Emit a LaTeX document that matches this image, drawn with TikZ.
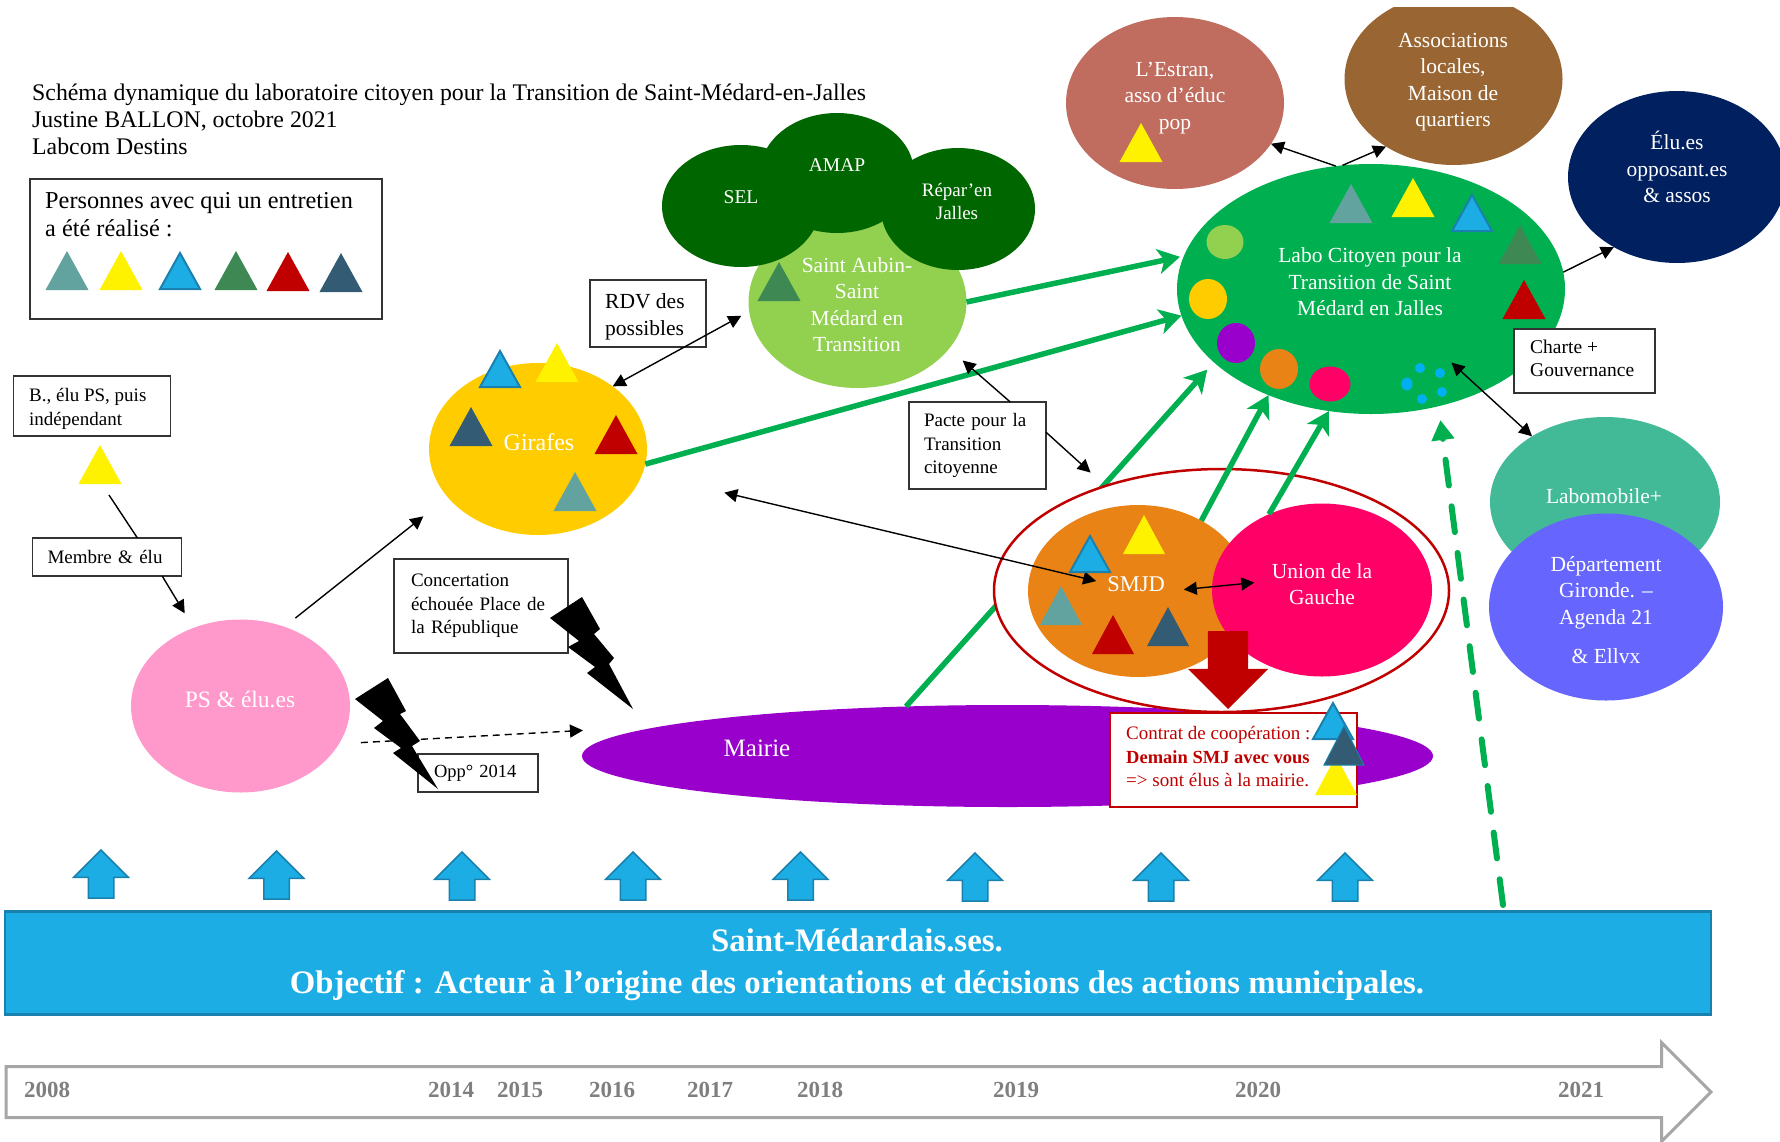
\documentclass[tikz,border=0pt]{standalone}
\usepackage{fontspec}
\setmainfont{Liberation Serif}
\usepackage{xcolor}
\usetikzlibrary{arrows.meta,shapes.geometric,shapes.arrows}
\definecolor{bleuclair}{HTML}{1CADE4}
\definecolor{bleubord}{HTML}{1A80AD}
\definecolor{sarcelle}{HTML}{62A39F}
\definecolor{vertfonce}{HTML}{3E8853}
\definecolor{rouge}{HTML}{C00000}
\definecolor{ardoise}{HTML}{335B74}
\definecolor{vertlabo}{HTML}{00B050}
\definecolor{vertaubin}{HTML}{92D050}
\definecolor{vertsapin}{HTML}{006600}
\definecolor{orsoleil}{HTML}{FFCC00}
\definecolor{violet}{HTML}{9900CC}
\definecolor{orange}{HTML}{E98316}
\definecolor{framboise}{HTML}{FF0066}
\definecolor{rosepale}{HTML}{FF99CC}
\definecolor{brique}{HTML}{C06C5F}
\definecolor{brun}{HTML}{996633}
\definecolor{marine}{HTML}{002060}
\definecolor{menthe}{HTML}{42BA97}
\definecolor{indigo}{HTML}{6666FF}
\definecolor{ciel}{HTML}{00B0F0}
\definecolor{grisfrise}{HTML}{A6A6A6}
\definecolor{grisannee}{HTML}{7F7F7F}
\tikzset{
  bulle/.style={shape=ellipse, inner sep=0pt, outer sep=0pt, minimum width=218pt, minimum height=172pt, text=white, align=center, font=\fontsize{21.5}{26.5}\selectfont},
  legende/.style={inner sep=0pt, outer sep=0pt, text=white, align=center, font=\fontsize{21.5}{26.5}\selectfont},
  rond/.style={shape=ellipse, inner sep=0pt, outer sep=0pt},
  tri/.style={shape=isosceles triangle, shape border rotate=90, isosceles triangle stretches, minimum width=43pt, minimum height=39pt, inner sep=0pt, outer sep=0pt, anchor=south},
  tribleu/.style={tri, fill=bleuclair, draw=bleubord, line width=2pt, minimum width=40pt, minimum height=36pt},
  boite/.style={draw=black!80, fill=white, line width=1.5pt, inner xsep=15pt, inner ysep=0pt, outer sep=0pt, align=left, font=\fontsize{19}{23.5}\selectfont},
  texteboite/.style={anchor=west, inner sep=0pt, align=left, font=\fontsize{19}{23.5}\selectfont},
  fleche/.style={line width=1.4pt, -{Triangle[length=13pt,width=13pt]}},
  flechedouble/.style={line width=1.4pt, {Triangle[length=13pt,width=13pt]}-{Triangle[length=13pt,width=13pt]}},
  verte/.style={draw=vertlabo, line width=5.5pt, -{Stealth[length=22pt,width=25pt,inset=6pt]}},
  flechebleue/.style={shape=single arrow, shape border rotate=90, single arrow head extend=14.5pt, minimum width=53pt, minimum height=48pt, inner xsep=12pt, inner ysep=0pt, outer sep=0pt, anchor=tail, fill=bleuclair, draw=bleubord, line width=1.5pt},
  annee/.style={inner sep=0pt, text=grisannee, font=\fontsize{23}{26}\selectfont\bfseries},
  eclair/.style={fill=black}
}
\begin{document}
\begin{tikzpicture}[x=1pt,y=-1pt]
\useasboundingbox (0,0) rectangle (1780,1141);
\clip (0,0) rectangle (1780,1141);

\node (titre) at (32,119) [anchor=west, inner sep=0pt, align=left, font=\fontsize{23.8}{27}\selectfont]{Schéma dynamique du laboratoire citoyen pour la Transition de Saint-Médard-en-Jalles\\Justine BALLON, octobre 2021\\Labcom Destins};

\node (cadre) at (206,249) [boite, minimum width=352pt, minimum height=140pt]{};
\node (cadretxt) at (45,215) [anchor=west, inner sep=0pt, align=left, font=\fontsize{24.3}{28}\selectfont]{Personnes avec qui un entretien\\a été réalisé :};
\node (l1) at (67,290) [tri, fill=sarcelle]{};
\node (l2) at (121,290) [tri, fill=yellow]{};
\node (l3) at (180,289) [tribleu]{};
\node (l4) at (236,290) [tri, fill=vertfonce]{};
\node (l5) at (288,291) [tri, fill=rouge]{};
\node (l6) at (341,292) [tri, fill=ardoise]{};

\node (elu) at (92,406) [boite, minimum width=157pt, minimum height=60pt]{};
\node (elutxt) at (29,409) [texteboite]{B., élu PS, puis\\indépendant};
\node (elutri) at (100,484) [tri, fill=yellow]{};
\node (membre) at (107,557) [boite, text width=119pt, minimum height=38pt]{Membre \& élu};
\node (ps) at (240.5,706) [bulle, fill=rosepale, minimum width=219pt, minimum height=173pt]{};
\node (pstxt) at (240,699) [legende, font=\fontsize{23.5}{26.5}\selectfont]{PS \& élu.es};
\coordinate (elufin) at (109,495);
\draw [line width=1.4pt] (elufin) -- (membre.32);
\draw [fleche, shorten >=17pt] (membre.-19.4) -- (ps.121);

\node (girafes) at (538,449) [bulle, fill=orsoleil]{};
\node (girafestxt) at (539,442) [legende, font=\fontsize{24}{26.5}\selectfont]{Girafes};
\draw [fleche, shorten <=14pt, shorten >=31pt] (ps.61) -- (girafes.208.5);

\node (aubin) at (857.5,302) [bulle, fill=vertaubin]{};
\node (sel) at (741,206) [bulle, fill=vertsapin, minimum width=158pt, minimum height=122pt]{};
\node (amap) at (837,173) [bulle, fill=vertsapin, minimum width=154pt, minimum height=120pt]{};
\node (repar) at (958,209) [bulle, fill=vertsapin, minimum width=154pt, minimum height=122pt]{};
\node (aubintxt) at (857,304.5) [legende]{Saint Aubin-\\Saint\\Médard en\\Transition};
\node (seltxt) at (741,197) [legende, font=\fontsize{19.5}{23}\selectfont]{SEL};
\node (amaptxt) at (837,165) [legende, font=\fontsize{19.5}{23}\selectfont]{AMAP};
\node (repartxt) at (957,201) [legende, font=\fontsize{19}{23}\selectfont]{Répar’en\\Jalles};
\node (a1) at (779,301) [tri, fill=vertfonce]{};

\node (estran) at (1175,103) [bulle, fill=brique]{};
\node (estrantxt) at (1175,98) [legende]{L’Estran,\\asso d’éduc\\pop};
\node (e1) at (1141,162) [tri, fill=yellow]{};
\begin{scope}
\clip (1300,7) rectangle (1600,200);
\node (assoc) at (1453.5,79) [bulle, fill=brun]{};
\end{scope}
\node (assoctxt) at (1453,82) [legende]{Associations\\locales,\\Maison de\\quartiers};
\node (opposant) at (1677,177) [bulle, fill=marine]{};
\node (opposanttxt) at (1677,167) [legende]{Élu.es\\opposant.es\\\& assos};

\node (labomobile) at (1605,502) [bulle, fill=menthe, minimum width=230pt, minimum height=170pt]{};
\node (labomobiletxt) at (1604,496) [legende]{Labomobile+};
\node (departement) at (1606,607) [bulle, fill=indigo, minimum width=234pt, minimum height=187pt]{};
\node (departementtxt) at (1606,610) [legende]{Département\\Gironde. --\\Agenda 21\\[13pt]\& Ellvx};

\node (mairie) at (1007.5,756) [bulle, fill=violet, minimum width=851pt, minimum height=102pt]{};
\node (mairietxt) at (757,748) [legende, font=\fontsize{25}{26.5}\selectfont]{Mairie};

\node (labo) at (1371,289) [bulle, fill=vertlabo, minimum width=388pt, minimum height=250pt]{};
\node (labotxt) at (1370,282) [legende]{Labo Citoyen pour la\\Transition de Saint\\Médard en Jalles};
\node (b1) at (1351,223) [tri, fill=sarcelle]{};
\node (b2) at (1413,217) [tri, fill=yellow]{};
\node (b3) at (1472,231) [tribleu]{};
\node (b4) at (1520,264) [tri, fill=vertfonce]{};
\node (b5) at (1524,319) [tri, fill=rouge]{};
\node (c1) at (1225,242) [rond, fill=vertaubin, minimum width=37pt, minimum height=34pt]{};
\node (c2) at (1208,299) [rond, fill=orsoleil, minimum width=38pt, minimum height=40pt]{};
\node (c3) at (1236,343) [rond, fill=violet, minimum width=38pt, minimum height=40pt]{};
\node (c4) at (1279,369) [rond, fill=orange, minimum width=38pt, minimum height=40pt]{};
\node (c5) at (1330,384) [rond, fill=framboise, minimum width=41pt, minimum height=35pt]{};
\node (d1) at (1420,368) [rond, fill=ciel, minimum width=10pt, minimum height=10pt]{};
\node (d2) at (1440,373) [rond, fill=ciel, minimum width=10pt, minimum height=10pt]{};
\node (d3) at (1407,384) [rond, fill=ciel, minimum width=11pt, minimum height=13pt]{};
\node (d4) at (1442,392) [rond, fill=ciel, minimum width=10pt, minimum height=10pt]{};
\node (d5) at (1422,399) [rond, fill=ciel, minimum width=10pt, minimum height=10pt]{};

\draw [verte, shorten >=10pt] (mairie.154.6) -- (labo.205.9);
\node (cercle) at (1221.5,590.5) [shape=ellipse, inner sep=0pt, outer sep=0pt, draw=rouge, fill=white, line width=2.5pt, minimum width=455pt, minimum height=243pt]{};
\node (smjd) at (1138,591) [bulle, fill=orange, minimum width=220pt, minimum height=172pt]{};
\node (smjdtxt) at (1136,584) [legende, font=\fontsize{22.5}{26.5}\selectfont]{SMJD};
\node (union) at (1322,590) [bulle, fill=framboise, minimum width=220pt, minimum height=173pt]{};
\node (uniontxt) at (1322,584) [legende]{Union de la\\Gauche};

\draw [verte, shorten >=4pt] (aubin.east) -- (labo.170.8);
\draw [verte] (girafes.-8.4) -- (labo.188.5);
\draw [verte] (smjd.48.5) -- (labo.226);
\draw [verte] (union.125.6) -- (labo.251.4);

\draw [flechedouble, shorten <=84pt, shorten >=43pt] (girafes.-13.8) -- (smjd.center);
\draw [flechedouble, shorten <=46pt, shorten >=68pt] ([yshift=-3pt]smjd.center) -- ([yshift=14pt]union.center);
\node (s1) at (1090,572) [tribleu]{};
\node (s2) at (1144,554) [tri, fill=yellow, minimum width=42pt]{};
\node (s3) at (1061,625) [tri, fill=sarcelle, minimum width=42pt]{};
\node (s4) at (1113,654) [tri, fill=rouge, minimum width=42pt]{};
\node (s5) at (1168,646) [tri, fill=ardoise, minimum width=42pt]{};
\node (g1) at (500,387) [tribleu]{};
\node (g2) at (557,382) [tri, fill=yellow]{};
\node (g3) at (471,446) [tri, fill=ardoise]{};
\node (g4) at (616,454) [tri, fill=rouge]{};
\node (g5) at (575,511) [tri, fill=sarcelle]{};

\node (rdv) at (648,313.5) [boite, minimum width=116pt, minimum height=67pt]{};
\node (rdvtxt) at (605,317) [texteboite, font=\fontsize{21.5}{26.5}\selectfont]{RDV des\\possibles};
\draw [flechedouble, shorten >=9pt] (girafes.40) -- (aubin.185);
\node (pacte) at (977.5,445.5) [boite, text width=107pt, minimum height=87pt]{Pacte pour la\\Transition\\citoyenne};
\draw [fleche, shorten >=18pt] (pacte.53.2) -- (aubin.-27.6);
\draw [fleche, shorten >=20pt] (pacte.11.1) -- (cercle.138);
\node (charte) at (1584.5,361) [boite, minimum width=141pt, minimum height=64pt]{};
\node (chartetxt) at (1530,358.5) [texteboite, font=\fontsize{19.5}{23.5}\selectfont]{Charte +\\Gouvernance};
\draw [flechedouble, shorten <=109pt] (labo.center) -- (labomobile.138.5);

\draw [fleche] (labo.106.7) -- (estran.-23.5);
\draw [fleche] (labo.103) -- (assoc.225.4);
\draw [fleche] (labo.5.2) -- (opposant.228.7);

\node (concertation) at (481,606) [boite, text width=140pt, inner xsep=17pt, minimum height=94pt]{Concertation\\échouée Place de\\la République};
\node (opp) at (478,773) [boite, text width=88pt, inner xsep=16pt, minimum height=38pt, font=\fontsize{18.5}{23}\selectfont]{Opp° 2014};
\draw [fleche, dash pattern=on 7pt off 5pt, shorten <=22pt, shorten >=81pt] (ps.-21) -- (mairie.175);
\fill [eclair] (355,699) -- (388,678) -- (406,711) -- (400,714) -- (420,741) -- (412,746) -- (438,789) -- (393,753) -- (401,748) -- (374,728) -- (383,721) -- cycle;
\fill [eclair] (550,618) -- (582,597) -- (600,629) -- (594,634) -- (614,658) -- (609,664) -- (633,709) -- (587,673) -- (595,667) -- (568,647) -- (579,641) -- cycle;

\node (contrat) at (1233.5,760) [boite, draw=rouge, minimum width=247pt, minimum height=94pt]{};
\node (contrattxt) at (1126,757) [texteboite, text=rouge]{Contrat de coopération :\\\textbf{\fontsize{18.5}{23.5}\selectfont Demain SMJ avec vous}\\=> sont élus à la mairie.};
\node (m1) at (1336,795) [tri, fill=yellow, minimum width=42pt]{};
\node (m2) at (1333,739) [tribleu]{};
\node (m3) at (1344,765) [tri, fill=ardoise, draw=bleubord, line width=1pt, minimum width=40pt]{};
\node (contratfleche) at (1228,631) [shape=single arrow, shape border rotate=270, single arrow head extend=20pt, minimum width=80pt, minimum height=78pt, inner xsep=20pt, inner ysep=0pt, outer sep=0pt, anchor=tail, fill=rouge]{};

\node (p1) at (101,898) [flechebleue]{};
\node (p2) at (276.5,899) [flechebleue]{};
\node (p3) at (462,900) [flechebleue]{};
\node (p4) at (633,900) [flechebleue]{};
\node (p5) at (800.5,900) [flechebleue]{};
\node (p6) at (975,901) [flechebleue]{};
\node (p7) at (1161,901) [flechebleue]{};
\node (p8) at (1345,901) [flechebleue]{};

\node (objectif) at (858,963) [draw=bleubord, fill=bleuclair, line width=2.5pt, inner sep=0pt, outer sep=0pt, minimum width=1706pt, minimum height=103pt]{};
\node (objectiftxt) at (857,965) [inner sep=0pt, text=white, align=center, font=\fontsize{32.8}{42}\selectfont\bfseries]{Saint-Médardais.ses.\\Objectif : Acteur à l’origine des orientations et décisions des actions municipales.};
\coordinate (pointilledebut) at (1503,905);
\draw [draw=vertlabo, line width=6pt, line cap=round, dash pattern=on 26pt off 21pt, -{Triangle[length=20pt,width=22pt]}, shorten >=14pt] (pointilledebut) -- (labo.-60.5);

\node (frise) at (6,1092) [shape=single arrow, single arrow head extend=24pt, minimum width=96pt, minimum height=1705pt, inner xsep=0pt, inner ysep=24pt, outer sep=0pt, anchor=tail, draw=grisfrise, fill=white, line width=3pt]{};
\node (a2008) at (47,1090) [annee]{2008};
\node (a2014) at (451,1090) [annee]{2014};
\node (a2015) at (520,1090) [annee]{2015};
\node (a2016) at (612,1090) [annee]{2016};
\node (a2017) at (710,1090) [annee]{2017};
\node (a2018) at (820,1090) [annee]{2018};
\node (a2019) at (1016,1090) [annee]{2019};
\node (a2020) at (1258,1090) [annee]{2020};
\node (a2021) at (1581,1090) [annee]{2021};

\end{tikzpicture}
\end{document}
